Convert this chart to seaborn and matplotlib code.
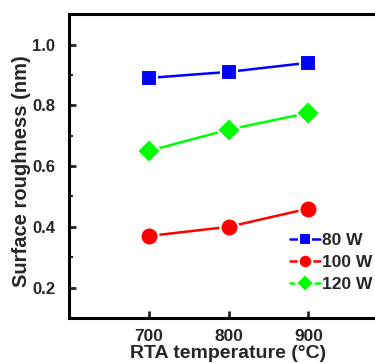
import matplotlib
matplotlib.use("Agg")
import matplotlib.pyplot as plt
import seaborn as sns
import pandas as pd
from matplotlib.ticker import MultipleLocator

temps = [700, 800, 900]
series_names = ["80 W", "100 W", "120 W"]
rough_80 = [0.89, 0.91, 0.94]
rough_100 = [0.37, 0.40, 0.46]
rough_120 = [0.65, 0.72, 0.775]
colors = ["#0000ff", "#ff0000", "#00ff00"]
markers = ["s", "o", "D"]

rows = []
for name, vals in zip(series_names, [rough_80, rough_100, rough_120]):
    for t, v in zip(temps, vals):
        rows.append({"T": t, "R": v, "Power": name})
df = pd.DataFrame(rows)

sns.set_style("ticks")
plt.rcParams["font.family"] = ["Liberation Sans", "DejaVu Sans"]
plt.rcParams["font.weight"] = "bold"

fig = plt.figure(figsize=(3.75, 3.63), dpi=100)
ax = fig.add_axes([0.184, 0.124, 0.851, 0.837])

sizes = [11, 13, 12]
for name, c, m, s in zip(series_names, colors, markers, sizes):
    sub = df[df["Power"] == name]
    sns.lineplot(data=sub, x="T", y="R", ax=ax, color=c, marker=m, markersize=s,
                 markeredgecolor="white", markeredgewidth=1.5, linewidth=1.8, label=name)

ax.set_xlim(600, 1000)
ax.set_ylim(0.1, 1.1)
ax.set_xticks(temps)
ax.set_yticks([0.2, 0.4, 0.6, 0.8, 1.0])
ax.yaxis.set_minor_locator(MultipleLocator(0.1))
ax.tick_params(axis="both", which="major", direction="in", length=5, width=2, labelsize=12.5)
ax.tick_params(axis="y", which="major", pad=10, labelsize=12)
ax.tick_params(axis="x", which="major", pad=8)
ax.tick_params(axis="y", which="minor", direction="in", length=3, width=1.5)
for lab in ax.get_xticklabels() + ax.get_yticklabels():
    lab.set_fontweight("bold")
for sp in ax.spines.values():
    sp.set_linewidth(2.2)
    sp.set_color("black")

ax.set_xlabel("RTA temperature (°C)", fontsize=14, fontweight="bold", labelpad=1)
ax.set_ylabel("Surface roughness (nm)", fontsize=14.5, fontweight="bold")
ax.yaxis.set_label_coords(-0.118, 0.482)

leg = ax.legend(loc="lower left", bbox_to_anchor=(0.655, 0.045), frameon=False,
                fontsize=12.5, handlelength=1.7, handletextpad=0.15, labelspacing=0.4,
                borderpad=0.2, markerscale=0.75)
for t in leg.get_texts():
    t.set_fontweight("bold")

fig.savefig("out.png", dpi=100)
